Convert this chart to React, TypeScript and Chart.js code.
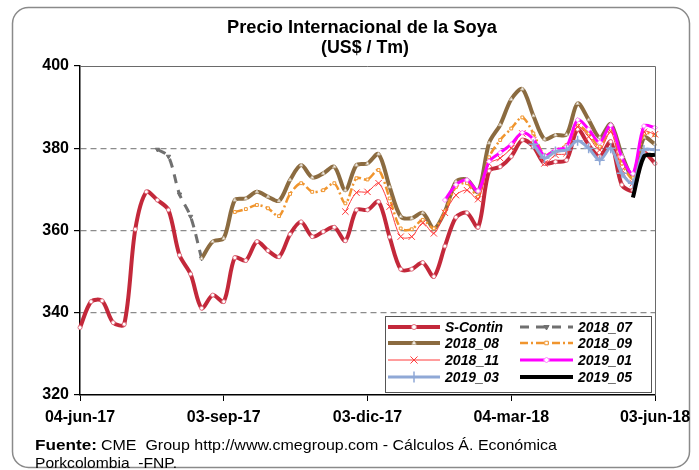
import React, { useEffect, useRef } from "react";
import { Chart, registerables } from "chart.js";
import { drawPoint } from "chart.js/helpers";

Chart.register(...registerables);

const weeks = [
  "04-jun-17", "11-jun-17", "18-jun-17", "25-jun-17", "02-jul-17", "09-jul-17", "16-jul-17", "23-jul-17",
  "30-jul-17", "06-ago-17", "13-ago-17", "20-ago-17", "27-ago-17", "03-sep-17", "10-sep-17", "17-sep-17",
  "24-sep-17", "01-oct-17", "08-oct-17", "15-oct-17", "22-oct-17", "29-oct-17", "05-nov-17", "12-nov-17",
  "19-nov-17", "26-nov-17", "03-dic-17", "10-dic-17", "17-dic-17", "24-dic-17", "31-dic-17", "07-ene-18",
  "14-ene-18", "21-ene-18", "28-ene-18", "04-feb-18", "11-feb-18", "18-feb-18", "25-feb-18", "04-mar-18",
  "11-mar-18", "18-mar-18", "25-mar-18", "01-abr-18", "08-abr-18", "15-abr-18", "22-abr-18", "29-abr-18",
  "06-may-18", "13-may-18", "20-may-18", "27-may-18", "03-jun-18",
];

const tickWeeks = ["04-jun-17", "03-sep-17", "03-dic-17", "04-mar-18", "03-jun-18"];
const yTicks = [320, 340, 360, 380, 400];
const gridValues = [340, 360, 380];

const N = null;

const sContin = [
  336.4, 342.7, 342.9, 337.6, 337.2, 360.3, 369.4, 367.4, 365.0, 354.0, 349.4, 341.1, 344.3, 342.7,
  353.4, 352.7, 357.3, 355.1, 353.6, 359.1, 362.1, 358.5, 359.7, 360.8, 357.5, 365.0, 365.0, 367.0,
  358.4, 350.6, 350.6, 352.2, 348.8, 356.2, 363.2, 364.3, 360.8, 374.5, 375.5, 378.0, 382.0, 380.4,
  376.3, 376.7, 377.1, 384.6, 380.8, 378.0, 381.6, 371.1, 369.8, 378.8, 376.3,
];

const c2018_07 = [
  N, N, N, N, N, N, N, 379.7, 378.0, 368.8, 363.4, 353.2, N, N,
  N, N, N, N, N, N, N, N, N, N, N, N, N, N,
  N, N, N, N, N, N, N, N, N, N, N, N, N, N,
  N, N, N, N, N, N, N, N, N, N, N,
];

const c2018_08 = [
  N, N, N, N, N, N, N, N, N, N, N, 353.2, 357.3, 358.1,
  367.4, 367.8, 369.4, 368.2, 367.2, 372.3, 375.9, 372.9, 373.9, 375.5, 369.8, 375.9, 376.3, 378.6,
  370.6, 363.4, 363.0, 364.3, 360.5, 364.6, 371.9, 372.4, 369.4, 381.3, 385.7, 391.9, 394.4, 387.9,
  382.2, 383.2, 383.3, 390.9, 386.9, 382.6, 385.9, 378.4, 373.1, 382.6, 381.0,
];

const c2018_09 = [
  N, N, N, N, N, N, N, N, N, N, N, N, N, N,
  364.5, 365.2, 366.2, 365.4, 363.5, 368.9, 371.5, 369.4, 369.8, 371.5, 366.6, 372.7, 372.4, 374.7,
  367.8, 360.5, 360.3, 362.6, 360.5, 364.6, 370.6, 371.5, 368.2, 377.8, 382.0, 384.8, 387.5, 383.6,
  378.4, 379.6, 380.8, 385.5, 383.6, 380.4, 384.8, 376.3, 372.7, 383.6, 383.2,
];

const c2018_11 = [
  N, N, N, N, N, N, N, N, N, N, N, N, N, N,
  N, N, N, N, N, N, N, N, N, N, 364.6, 369.2, 369.4, 371.5,
  365.8, 358.5, 358.5, 361.8, 359.3, 364.3, 368.6, 369.8, 367.6, 376.2, 377.6, 380.0, 383.6, 382.0,
  376.3, 378.4, 378.8, 385.3, 382.8, 379.6, 384.0, 374.7, 371.5, 384.0, 383.4,
];

const c2019_01 = [
  N, N, N, N, N, N, N, N, N, N, N, N, N, N,
  N, N, N, N, N, N, N, N, N, N, N, N, N, N,
  N, N, N, N, N, 367.4, 371.1, 372.3, 369.6, 376.8, 378.9, 381.0, 383.8, 382.2,
  378.2, 379.6, 380.4, 386.9, 384.6, 381.4, 385.6, 377.8, 373.8, 385.4, 385.0,
];

const c2019_03 = [
  N, N, N, N, N, N, N, N, N, N, N, N, N, N,
  N, N, N, N, N, N, N, N, N, N, N, N, N, N,
  N, N, N, N, N, N, N, N, N, N, N, N, N, 381.0,
  377.6, 379.2, 379.6, 381.8, 380.0, 377.1, 380.0, 373.9, 371.5, 379.6, 379.6,
];

const c2019_05 = [
  N, N, N, N, N, N, N, N, N, N, N, N, N, N,
  N, N, N, N, N, N, N, N, N, N, N, N, N, N,
  N, N, N, N, N, N, N, N, N, N, N, N, N, N,
  N, N, N, N, N, N, N, N, 368.0, 378.0, 378.4,
];

const FONT = '"Liberation Sans", Arial, sans-serif';

function fitText(ctx: CanvasRenderingContext2D, text: string, x: number, y: number, width: number, align: "left" | "center") {
  const w = ctx.measureText(text).width;
  const s = width / w;
  ctx.save();
  ctx.translate(x, y);
  ctx.scale(s, 1);
  ctx.textAlign = "left";
  ctx.fillText(text, align === "center" ? -w / 2 : 0, 0);
  ctx.restore();
}

const decorPlugin = {
  id: "decor",
  beforeDraw(chart: any) {
    const ctx: CanvasRenderingContext2D = chart.ctx;
    ctx.save();
    ctx.fillStyle = "#ffffff";
    ctx.fillRect(0, 0, chart.width, chart.height);
    ctx.beginPath();
    (ctx as any).roundRect(12.5, 7.5, 677, 460, 16);
    ctx.strokeStyle = "#8a8a8a";
    ctx.lineWidth = 1.5;
    ctx.stroke();
    ctx.restore();
  },
  afterDraw(chart: any) {
    const ctx: CanvasRenderingContext2D = chart.ctx;
    const a = chart.chartArea;
    ctx.save();
    // plot box top and right
    ctx.strokeStyle = "#6a6a6a";
    ctx.lineWidth = 1;
    ctx.beginPath();
    ctx.moveTo(a.left, a.top + 0.5);
    ctx.lineTo(a.right + 0.5, a.top + 0.5);
    ctx.lineTo(a.right + 0.5, a.bottom);
    ctx.stroke();

    // title
    ctx.fillStyle = "#000";
    ctx.textBaseline = "alphabetic";
    ctx.font = `bold 18px ${FONT}`;
    fitText(ctx, "Precio Internacional de la Soya", 362, 33, 270, "center");
    fitText(ctx, "(US$ / Tm)", 365, 53, 88, "center");

    // footer
    ctx.font = `bold 15px ${FONT}`;
    fitText(ctx, "Fuente:", 35, 450, 62, "left");
    ctx.font = `15px ${FONT}`;
    fitText(ctx, "CME  Group http://www.cmegroup.com - Cálculos Á. Económica", 101, 450, 456, "left");
    fitText(ctx, "Porkcolombia  -FNP.", 35, 468, 142, "left");

    // legend
    const box = { l: 385.5, t: 316.5, r: 651.5, b: 392.5 };
    ctx.fillStyle = "#ffffff";
    ctx.fillRect(box.l, box.t, box.r - box.l, box.b - box.t);
    ctx.strokeStyle = "#555";
    ctx.lineWidth = 1;
    ctx.strokeRect(box.l, box.t, box.r - box.l, box.b - box.t);

    const rows = [327, 343, 360, 377];
    const cols = [
      { x0: 388, x1: 440, tx: 445 },
      { x0: 520, x1: 573, tx: 578 },
    ];
    chart.data.datasets.forEach((ds: any, i: number) => {
      const col = cols[i % 2];
      const y = rows[Math.floor(i / 2)];
      ctx.save();
      ctx.strokeStyle = ds.borderColor;
      ctx.lineWidth = ds.borderWidth;
      ctx.setLineDash(ds.borderDash || []);
      ctx.lineCap = "butt";
      ctx.beginPath();
      ctx.moveTo(col.x0, y);
      ctx.lineTo(col.x1, y);
      ctx.stroke();
      ctx.setLineDash([]);
      if (ds.pointRadius > 0) {
        ctx.fillStyle = ds.pointBackgroundColor;
        ctx.strokeStyle = ds.pointBorderColor;
        ctx.lineWidth = ds.pointBorderWidth;
        drawPoint(ctx, { pointStyle: ds.pointStyle, rotation: ds.pointRotation || 0, radius: ds.pointRadius + 0.5, borderWidth: ds.pointBorderWidth }, (col.x0 + col.x1) / 2, y);
      }
      ctx.restore();
      ctx.fillStyle = "#000";
      ctx.font = `italic bold 15px ${FONT}`;
      ctx.textBaseline = "middle";
      fitText(ctx, ds.label, col.tx, y + 0.5, ds.label === "S-Contin" ? 58 : 54, "left");
    });
    ctx.restore();
  },
};

function makeDataset(label: string, data: (number | null)[], o: any) {
  return {
    label,
    data,
    borderColor: o.color,
    backgroundColor: o.color,
    borderWidth: o.width,
    borderDash: o.dash || [],
    pointStyle: o.pointStyle || "circle",
    pointRotation: o.rotation || 0,
    pointRadius: o.radius ?? 0,
    pointBackgroundColor: o.pointBg || "#ffffff",
    pointBorderColor: o.pointBorder || o.color,
    pointBorderWidth: o.pointBorderWidth ?? 1,
    pointHoverRadius: 0,
    tension: 0.3,
    fill: false,
    spanGaps: false,
    order: o.order,
  };
}

export default function App() {
  const ref = useRef<HTMLCanvasElement | null>(null);
  useEffect(() => {
    if (!ref.current) return;
    const chart = new Chart(ref.current, {
      type: "line",
      data: {
        labels: weeks,
        datasets: [
          makeDataset("S-Contin", sContin, { color: "#C3283A", width: 4, radius: 2, pointBorder: "#E07080", order: 10 }),
          makeDataset("2018_07", c2018_07, { color: "#707070", width: 3, dash: [9, 7], pointStyle: "triangle", rotation: 180, radius: 2.5, pointBg: "#707070", order: 9 }),
          makeDataset("2018_08", c2018_08, { color: "#8B6B40", width: 4, pointStyle: "triangle", radius: 2, pointBorder: "#C8B8A0", order: 8 }),
          makeDataset("2018_09", c2018_09, { color: "#F0952E", width: 2.5, dash: [8, 3, 2, 3], pointStyle: "rect", radius: 2, order: 7 }),
          makeDataset("2018_11", c2018_11, { color: "#FF3B3B", width: 1, pointStyle: "crossRot", radius: 4.5, pointBorderWidth: 1, order: 6 }),
          makeDataset("2019_01", c2019_01, { color: "#FF00FF", width: 3, pointStyle: "rectRot", radius: 2.5, pointBorder: "#FF80FF", order: 5 }),
          makeDataset("2019_03", c2019_03, { color: "#8FA8D6", width: 3, pointStyle: "cross", radius: 5, pointBorderWidth: 1.5, order: 4 }),
          makeDataset("2019_05", c2019_05, { color: "#000000", width: 4, radius: 0, order: 3 }),
        ],
      },
      options: {
        animation: false,
        responsive: false,
        maintainAspectRatio: false,
        events: [],
        layout: { padding: { left: 0, right: 44, top: 66, bottom: 0 } },
        plugins: {
          legend: { display: false },
          title: { display: false },
          tooltip: { enabled: false },
        },
        scales: {
          x: {
            type: "category",
            offset: false,
            afterFit: (s: any) => { s.height = 75; },
            grid: {
              drawOnChartArea: false,
              drawTicks: true,
              tickLength: 6,
              tickColor: (c: any) => (tickWeeks.includes(weeks[c.index]) ? "#000" : "rgba(0,0,0,0)"),
              color: "rgba(0,0,0,0)",
            },
            border: { display: true, color: "#000", width: 1.5 },
            ticks: {
              autoSkip: false,
              maxRotation: 0,
              minRotation: 0,
              padding: 7,
              color: "#000",
              font: { family: FONT, size: 16, weight: "bold" },
              callback: (_v: any, i: number) => (tickWeeks.includes(weeks[i]) ? weeks[i] : ""),
            },
          },
          y: {
            min: 320,
            max: 400,
            afterFit: (s: any) => { s.width = 80; },
            afterBuildTicks: (s: any) => { s.ticks = yTicks.map((v) => ({ value: v })); },
            grid: {
              drawTicks: true,
              tickLength: 6,
              tickColor: "#000",
              lineWidth: 1.2,
              color: (c: any) => (c.tick && gridValues.includes(c.tick.value) ? "#8c8c8c" : "rgba(0,0,0,0)"),
            },
            border: { display: true, color: "#000", width: 1.5, dash: [6, 4] },
            ticks: {
              padding: 5,
              color: "#000",
              font: { family: FONT, size: 16, weight: "bold" },
            },
          },
        },
      },
      plugins: [decorPlugin],
    } as any);
    return () => chart.destroy();
  }, []);
  return (
    <div style={{ position: "fixed", left: 0, top: 0, width: 699, height: 470 }}>
      <canvas ref={ref} width={699} height={470} style={{ width: 699, height: 470, display: "block" }} />
    </div>
  );
}
